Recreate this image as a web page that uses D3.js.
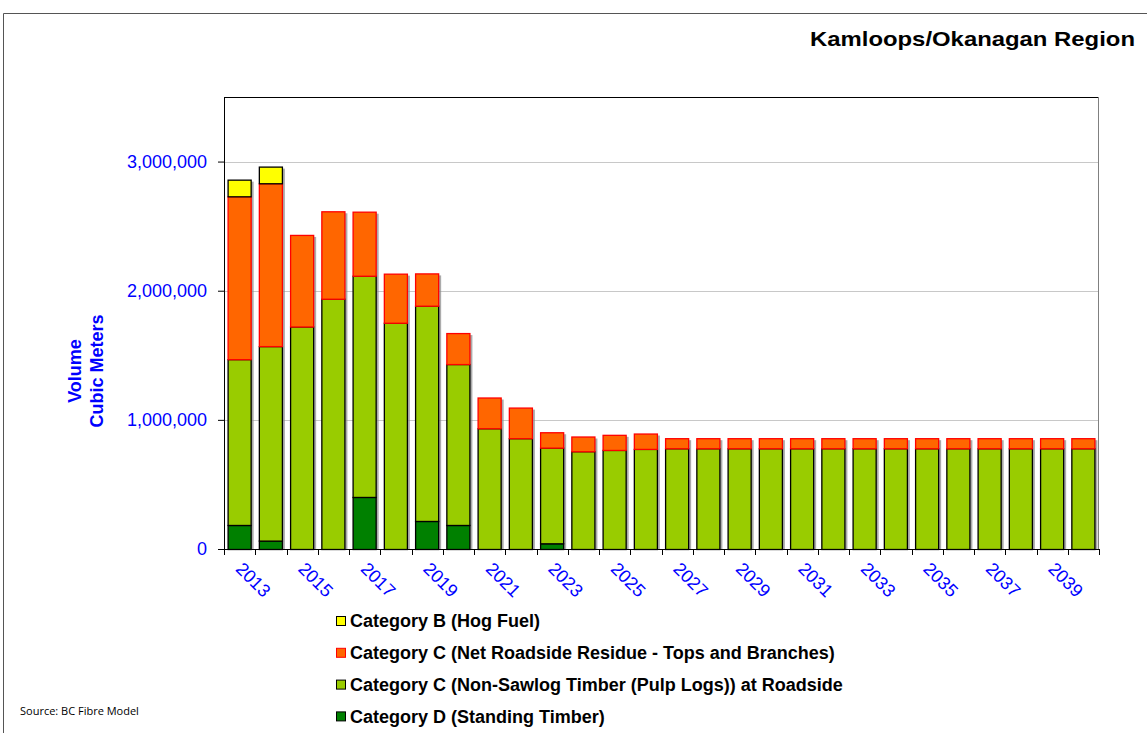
<!DOCTYPE html>
<html>
<head>
<meta charset="utf-8">
<script src="https://cdnjs.cloudflare.com/ajax/libs/d3/7.8.5/d3.min.js"></script>
<style>
	body { margin: 0; background: #fff; }
	svg { display: block; }
</style>
</head>
<body>
<svg id="chart" width="1147" height="733"></svg>
<script>
// values, cubic meters
var years = [2013, 2014, 2015, 2016, 2017, 2018, 2019, 2020, 2021, 2022, 2023, 2024, 2025, 2026,
	2027, 2028, 2029, 2030, 2031, 2032, 2033, 2034, 2035, 2036, 2037, 2038, 2039, 2040];
var standingTimber = [186000, 65000, 0, 0, 403000, 0, 217000, 186000, 0, 0, 44000, 0, 0, 0,
	0, 0, 0, 0, 0, 0, 0, 0, 0, 0, 0, 0, 0, 0];
var pulpLogs = [1284000, 1506000, 1723000, 1938000, 1713000, 1752000, 1667000, 1246000, 935000, 858000, 741000, 757000, 767000, 775000,
	780000, 780000, 780000, 780000, 780000, 780000, 780000, 780000, 780000, 780000, 780000, 780000, 780000, 780000];
var roadsideResidue = [1261000, 1261000, 709000, 677000, 496000, 380000, 250000, 240000, 238000, 237000, 119000, 114000, 117000, 119000,
	78000, 78000, 78000, 78000, 78000, 78000, 78000, 78000, 78000, 78000, 78000, 78000, 78000, 78000];
var hogFuel = [129000, 129000, 0, 0, 0, 0, 0, 0, 0, 0, 0, 0, 0, 0,
	0, 0, 0, 0, 0, 0, 0, 0, 0, 0, 0, 0, 0, 0];
var yTicks = [0, 1000000, 2000000, 3000000];

var keys = ['standing', 'pulp', 'residue', 'hog'];
var fills = { standing: '#008000', pulp: '#99CC00', residue: '#FF6600', hog: '#FFFF00' };
var strokes = { standing: '#000', pulp: '#000', residue: '#FF0000', hog: '#000' };
var legendItems = [
	{ key: 'hog', label: 'Category B (Hog Fuel)' },
	{ key: 'residue', label: 'Category C (Net Roadside Residue - Tops and Branches)' },
	{ key: 'pulp', label: 'Category C (Non-Sawlog Timber (Pulp Logs)) at Roadside' },
	{ key: 'standing', label: 'Category D (Standing Timber)' }
];

var rows = years.map(function (y, i) {
	return { year: y, standing: standingTimber[i], pulp: pulpLogs[i], residue: roadsideResidue[i], hog: hogFuel[i] };
});

var svg = d3.select('#chart');
var pLeft = 224, pRight = 1099, pTop = 97, pBottom = 549;
var font = 'Liberation Sans, Arial, sans-serif';

// outer frame
svg.append('path')
	.attr('d', 'M3.5,733 L3.5,13.5 L1147,13.5')
	.attr('fill', 'none')
	.attr('stroke', '#555')
	.attr('stroke-width', 1);

svg.append('text')
	.attr('x', 1135).attr('y', 46)
	.attr('text-anchor', 'end')
	.attr('textLength', 325)
	.attr('lengthAdjust', 'spacingAndGlyphs')
	.style('font-family', font)
	.style('font-weight', 'bold')
	.style('font-size', '21px')
	.text('Kamloops/Okanagan Region');

var x = d3.scaleBand().domain(years).range([pLeft, pRight]).paddingInner(0.23).paddingOuter(0.115);
var y = d3.scaleLinear().domain([0, 3500000]).range([pBottom, pTop]);

// gridlines
svg.append('g').selectAll('line')
	.data(yTicks.filter(function (d) { return d > 0; }))
	.join('line')
	.attr('x1', pLeft).attr('x2', pRight)
	.attr('y1', function (d) { return Math.round(y(d)) + 0.5; })
	.attr('y2', function (d) { return Math.round(y(d)) + 0.5; })
	.attr('stroke', '#C8C8C8');

// plot frame right / top
svg.append('line').attr('x1', pLeft).attr('x2', pRight).attr('y1', pTop + 0.5).attr('y2', pTop + 0.5).attr('stroke', '#000');
svg.append('line').attr('x1', pRight - 0.5).attr('x2', pRight - 0.5).attr('y1', pTop).attr('y2', pBottom).attr('stroke', '#808080');

var stacked = d3.stack().keys(keys)(rows);

// bar shadows
svg.append('g').selectAll('rect')
	.data(rows)
	.join('rect')
	.attr('x', function (d) { return x(d.year) + 2; })
	.attr('y', function (d) { return y(d.standing + d.pulp + d.residue + d.hog) + 2; })
	.attr('width', x.bandwidth())
	.attr('height', function (d) { return pBottom - y(d.standing + d.pulp + d.residue + d.hog) - 2; })
	.attr('fill', '#888')
	.attr('opacity', 0.7);

stacked.forEach(function (layer) {
	svg.append('g').selectAll('rect')
		.data(layer.filter(function (d) { return d[1] - d[0] > 0; }))
		.join('rect')
		.attr('x', function (d) { return x(d.data.year) + 0.5; })
		.attr('y', function (d) { return y(d[1]) + 0.5; })
		.attr('width', x.bandwidth() - 1)
		.attr('height', function (d) { return y(d[0]) - y(d[1]); })
		.attr('fill', fills[layer.key])
		.attr('stroke', strokes[layer.key])
		.attr('stroke-width', 1.3);
});

// y axis
var yAxis = svg.append('g')
	.attr('transform', 'translate(' + pLeft + ',0)')
	.call(d3.axisLeft(y).tickValues(yTicks).tickSize(6).tickPadding(11).tickFormat(d3.format(',')));
yAxis.select('.domain').attr('stroke', '#000').attr('d', 'M0.5,' + pTop + 'V' + (pBottom + 5));
yAxis.selectAll('text')
	.attr('fill', '#0000FF')
	.style('font-family', font)
	.style('font-size', '18px');

// x axis: ticks at band edges, labels every other year
var step = x.step();
var edges = years.map(function (yr) { return x(yr) - x.paddingOuter() * step; });
edges.push(pRight);
var xg = svg.append('g');
xg.append('line').attr('x1', pLeft).attr('x2', pRight).attr('y1', pBottom + 0.5).attr('y2', pBottom + 0.5).attr('stroke', '#000');
xg.selectAll('line.tk')
	.data(edges)
	.join('line')
	.attr('class', 'tk')
	.attr('x1', function (d) { return Math.round(d) + 0.5; })
	.attr('x2', function (d) { return Math.round(d) + 0.5; })
	.attr('y1', pBottom).attr('y2', pBottom + 6)
	.attr('stroke', '#000');
xg.selectAll('text')
	.data(years.filter(function (d, i) { return i % 2 === 0; }))
	.join('text')
	.attr('transform', function (d) {
		return 'translate(' + (x(d) + x.bandwidth() / 2 + 4) + ',' + (pBottom + 12) + ') rotate(45)';
	})
	.attr('dy', '0.7em')
	.attr('fill', '#0000FF')
	.style('font-family', font)
	.style('font-size', '18px')
	.text(function (d) { return d; });

// y axis title
var yt = svg.append('text')
	.attr('transform', 'translate(0,371) rotate(-90)')
	.attr('text-anchor', 'middle')
	.attr('fill', '#0000FF')
	.style('font-family', font)
	.style('font-weight', 'bold')
	.style('font-size', '18px');
yt.append('tspan').attr('x', 0).attr('y', 81).text('Volume');
yt.append('tspan').attr('x', 0).attr('y', 103).text('Cubic Meters');

// legend
var lg = svg.append('g').selectAll('g')
	.data(legendItems)
	.join('g')
	.attr('transform', function (d, i) { return 'translate(336,' + (621 + i * 31.8) + ')'; });
lg.append('rect')
	.attr('x', 0.5).attr('y', -4.5)
	.attr('width', 9).attr('height', 9)
	.attr('fill', function (d) { return fills[d.key]; })
	.attr('stroke', function (d) { return d.key === 'residue' ? '#FF0000' : '#000'; });
lg.append('text')
	.attr('x', 14).attr('y', 0)
	.attr('dy', '0.36em')
	.style('font-family', font)
	.style('font-weight', 'bold')
	.style('font-size', '18px')
	.text(function (d) { return d.label; });

svg.append('text')
	.attr('x', 20).attr('y', 715)
	.style('font-family', 'Open Sans, sans-serif')
	.style('font-size', '11px')
	.text('Source: BC Fibre Model');
</script>
</body>
</html>
